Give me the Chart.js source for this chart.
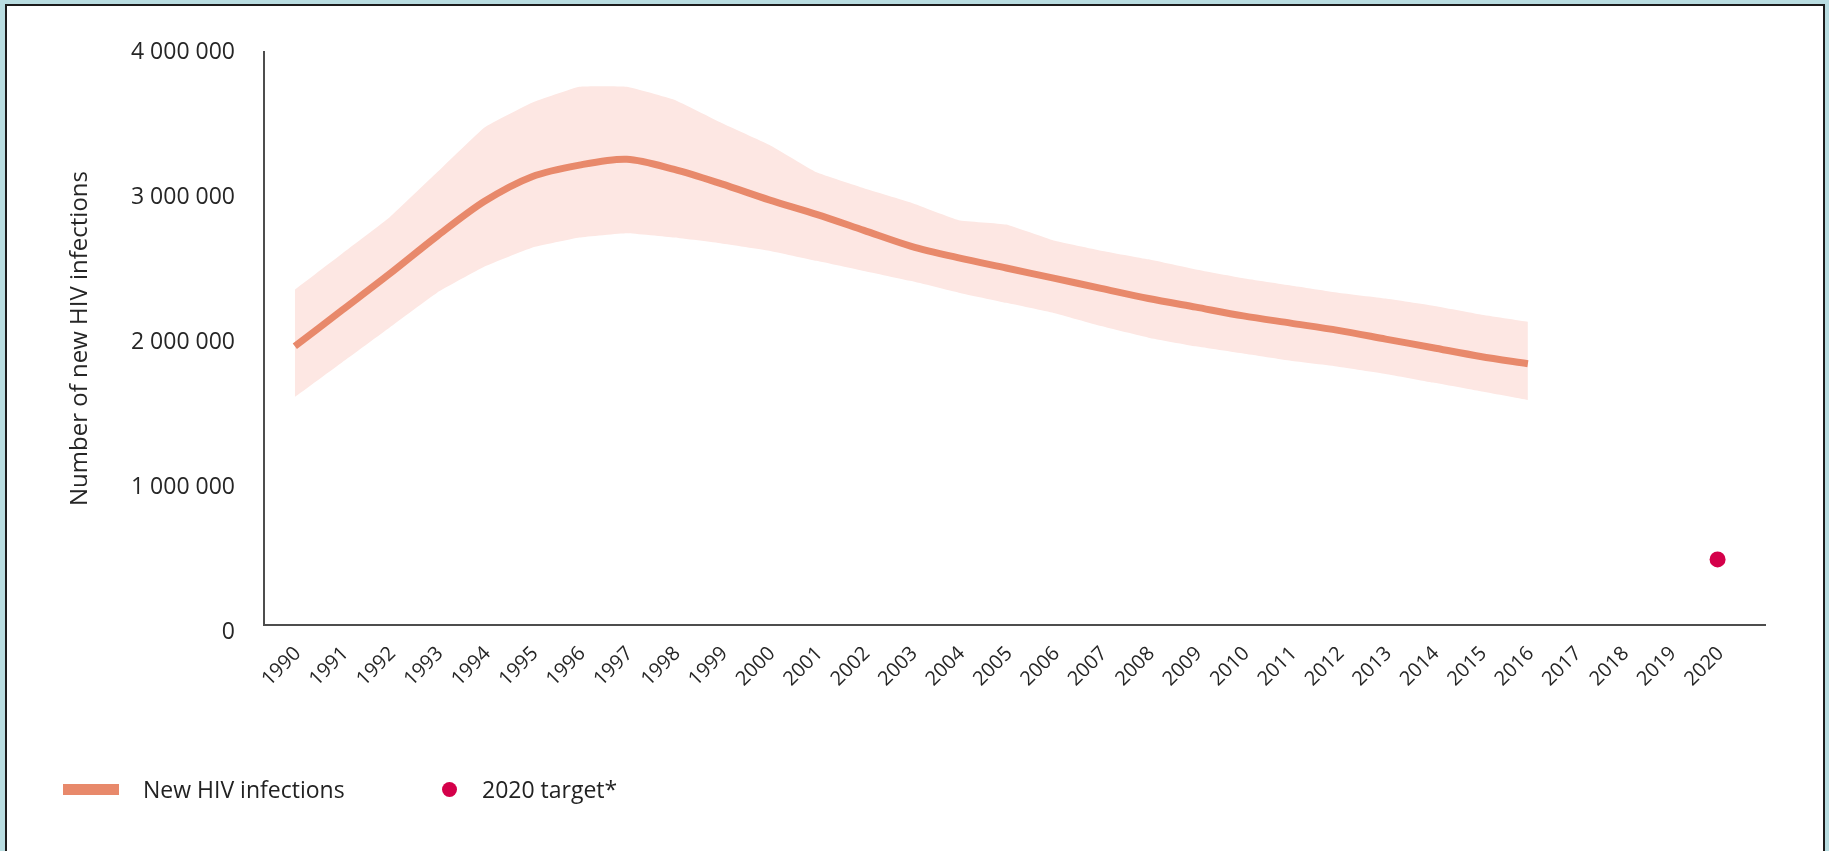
<!DOCTYPE html>
<html>
<head>
<meta charset="utf-8">
<title>New HIV infections</title>
<script src="https://cdn.jsdelivr.net/npm/chart.js@4.4.1/dist/chart.umd.min.js"></script>
<style>
  html, body {
    margin: 0;
    padding: 0;
    width: 1829px;
    height: 851px;
    overflow: hidden;
    background: #b9dde1;
  }
  #panel {
    position: absolute;
    left: 5px;
    top: 4px;
    width: 1816px;
    height: 900px;
    background: #fff;
    border: 2px solid #1c1c1c;
  }
  #chart {
    position: absolute;
    left: 0;
    top: 0;
  }
  .legend-text {
    position: absolute;
    font-family: "Open Sans", sans-serif;
    font-size: 23px;
    line-height: 30px;
    color: #222;
    white-space: nowrap;
  }
  .legend-mark {
    position: absolute;
  }
</style>
</head>
<body>
<div id="panel"></div>
<canvas id="chart" width="1829" height="851"></canvas>
<div id="legend"></div>
<script>
// estimates
const years = [
  1990, 1991, 1992, 1993, 1994, 1995, 1996, 1997, 1998, 1999,
  2000, 2001, 2002, 2003, 2004, 2005, 2006, 2007, 2008, 2009,
  2010, 2011, 2012, 2013, 2014, 2015, 2016
]
const newInfections = [
  1970000, 2220000, 2470000, 2730000, 2970000, 3140000, 3220000, 3260000, 3190000, 3090000,
  2980000, 2880000, 2770000, 2660000, 2580000, 2510000, 2440000, 2370000, 2300000, 2240000,
  2180000, 2130000, 2080000, 2020000, 1960000, 1900000, 1850000
]
const upperBound = [
  2360000, 2610000, 2860000, 3170000, 3480000, 3650000, 3760000, 3760000, 3670000, 3510000,
  3360000, 3170000, 3060000, 2960000, 2840000, 2810000, 2700000, 2630000, 2570000, 2500000,
  2440000, 2390000, 2340000, 2300000, 2250000, 2190000, 2140000
]
const lowerBound = [
  1620000, 1860000, 2100000, 2340000, 2520000, 2650000, 2720000, 2750000, 2720000, 2680000,
  2630000, 2560000, 2490000, 2420000, 2340000, 2270000, 2200000, 2110000, 2030000, 1970000,
  1920000, 1870000, 1830000, 1780000, 1720000, 1660000, 1600000
]
const targetYear = 2020
const targetValue = 500000
const tickYears = [
  1990, 1991, 1992, 1993, 1994, 1995, 1996, 1997, 1998, 1999,
  2000, 2001, 2002, 2003, 2004, 2005, 2006, 2007, 2008, 2009,
  2010, 2011, 2012, 2013, 2014, 2015, 2016, 2017, 2018, 2019, 2020
]
const yTicks = [0, 1000000, 2000000, 3000000, 4000000]

const lineColor = '#e8896b'
const bandColor = '#fde7e3'
const targetColor = '#d4004a'
const axisColor = '#4d4d4d'
const textColor = '#262626'
const font = 'Open Sans'

function points(xs, ys) {
  return xs.map((x, i) => ({ x: x, y: ys[i] }))
}

function spaced(v) {
  return String(v).replace(/\B(?=(\d{3})+(?!\d))/g, ' ')
}

const ctx = document.getElementById('chart').getContext('2d')

const chart = new Chart(ctx, {
  type: 'line',
  data: {
    datasets: [
      {
        label: 'New HIV infections',
        data: points(years, newInfections),
        borderColor: lineColor,
        borderWidth: 7,
        pointRadius: 0,
        tension: 0.3,
        fill: false
      },
      {
        label: '2020 target*',
        data: [{ x: targetYear, y: targetValue }],
        showLine: false,
        pointRadius: 8,
        pointBackgroundColor: targetColor,
        pointBorderWidth: 0,
        pointBorderColor: targetColor
      },
      {
        label: 'upper',
        data: points(years, upperBound),
        borderColor: 'rgba(0,0,0,0)',
        borderWidth: 0,
        pointRadius: 0,
        tension: 0.1,
        backgroundColor: bandColor,
        fill: '+1'
      },
      {
        label: 'lower',
        data: points(years, lowerBound),
        borderColor: 'rgba(0,0,0,0)',
        borderWidth: 0,
        pointRadius: 0,
        tension: 0.1,
        fill: false
      }
    ]
  },
  options: {
    responsive: false,
    animation: false,
    layout: {
      padding: { left: 66, top: 52, right: 64, bottom: 0 }
    },
    plugins: {
      legend: { display: false },
      tooltip: { enabled: false }
    },
    scales: {
      x: {
        type: 'linear',
        min: 1989.35,
        max: 2021,
        grid: { display: false, drawTicks: false },
        border: { color: axisColor, width: 2 },
        afterBuildTicks: function(scale) {
          scale.ticks = tickYears.map(v => ({ value: v }))
        },
        afterFit: function(scale) {
          scale.height = 226
        },
        ticks: {
          autoSkip: false,
          minRotation: 45,
          maxRotation: 45,
          padding: 17,
          labelOffset: 3,
          color: textColor,
          font: { family: font, size: 20 },
          callback: v => String(v)
        }
      },
      y: {
        // the x axis line sits a little above zero in the original
        min: 48000,
        max: 4000000,
        grid: { display: false, drawTicks: false },
        border: { color: axisColor, width: 2 },
        afterBuildTicks: function(scale) {
          scale.ticks = yTicks.map(v => ({ value: v }))
        },
        afterFit: function(scale) {
          scale.width = 198
        },
        ticks: {
          padding: 29,
          color: textColor,
          font: { family: font, size: 23 },
          callback: v => spaced(v)
        },
        title: {
          display: true,
          text: 'Number of new HIV infections',
          color: textColor,
          font: { family: font, size: 24 },
          padding: 0
        }
      }
    }
  }
})

// legend under the chart, colours taken from the datasets
const legend = document.getElementById('legend')
const mainSet = chart.data.datasets[0]
const targetSet = chart.data.datasets[1]
legend.innerHTML = `
  <div class="legend-mark" style="left:63px;top:784px;width:56px;height:11px;background:${mainSet.borderColor}"></div>
  <div class="legend-text" style="left:143px;top:774px">${mainSet.label}</div>
  <div class="legend-mark" style="left:442px;top:782px;width:15px;height:15px;border-radius:50%;background:${targetSet.pointBackgroundColor}"></div>
  <div class="legend-text" style="left:482px;top:774px">${targetSet.label}</div>
`
</script>
</body>
</html>
